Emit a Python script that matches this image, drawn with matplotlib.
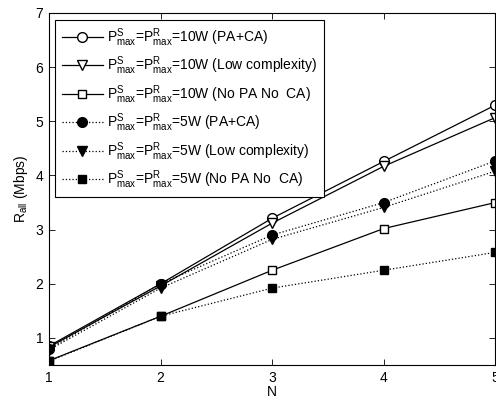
import matplotlib
matplotlib.use('Agg')
import matplotlib.pyplot as plt
from matplotlib import rcParams

rcParams['font.family'] = 'Liberation Sans'
rcParams['font.size'] = 10
rcParams['mathtext.default'] = 'regular'

N = [1, 2, 3, 4, 5]

r10_pa_ca = [0.85, 2.00, 3.21, 4.26, 5.30]
r10_low = [0.83, 1.96, 3.12, 4.17, 5.07]
r10_none = [0.58, 1.40, 2.25, 3.02, 3.50]
r5_pa_ca = [0.80, 2.00, 2.90, 3.50, 4.27]
r5_low = [0.78, 1.92, 2.82, 3.41, 4.08]
r5_none = [0.57, 1.40, 1.92, 2.25, 2.58]

labels = [
    r'$P^S_{max}$=$P^R_{max}$=10W (PA+CA)',
    r'$P^S_{max}$=$P^R_{max}$=10W (Low complexity)',
    r'$P^S_{max}$=$P^R_{max}$=10W (No PA No  CA)',
    r'$P^S_{max}$=$P^R_{max}$=5W (PA+CA)',
    r'$P^S_{max}$=$P^R_{max}$=5W (Low complexity)',
    r'$P^S_{max}$=$P^R_{max}$=5W (No PA No  CA)',
]

fig = plt.figure(figsize=(4.96, 4.01), dpi=100)
ax = fig.add_axes([0.0988, 0.0898, 0.9, 0.8778])

ax.plot(N, r10_pa_ca, '-o', c='k', mfc='w', ms=7, lw=0.9, label=labels[0])
ax.plot(N, r10_low, '-v', c='k', mfc='w', ms=7, lw=0.9, label=labels[1])
ax.plot(N, r10_none, '-s', c='k', mfc='w', ms=6, lw=0.9, label=labels[2])
ax.plot(N, r5_pa_ca, ':o', c='k', mfc='k', ms=7, lw=0.9, label=labels[3])
ax.plot(N, r5_low, ':v', c='k', mfc='k', ms=7, lw=0.9, label=labels[4])
ax.plot(N, r5_none, ':s', c='k', mfc='k', ms=6, lw=0.9, label=labels[5])

ax.set_xlim(1, 5)
ax.set_ylim(0.5, 7)
ax.set_xticks([1, 2, 3, 4, 5])
ax.set_yticks([1, 2, 3, 4, 5, 6, 7])
ax.tick_params(direction='in', top=True, right=True, length=4, width=0.6, pad=4)
for s in ax.spines.values():
    s.set_linewidth(0.8)
ax.set_xlabel('N', labelpad=0)
ax.set_ylabel('$R_{all}$ (Mbps)', labelpad=4)

leg = ax.legend(loc='upper left', bbox_to_anchor=(0.014, 0.98), fancybox=False,
                edgecolor='k', framealpha=1, handlelength=3.0, labelspacing=0.42,
                borderpad=0.45, handletextpad=0.3, borderaxespad=0)
leg.get_frame().set_linewidth(0.8)

fig.savefig('out.png', dpi=100)
